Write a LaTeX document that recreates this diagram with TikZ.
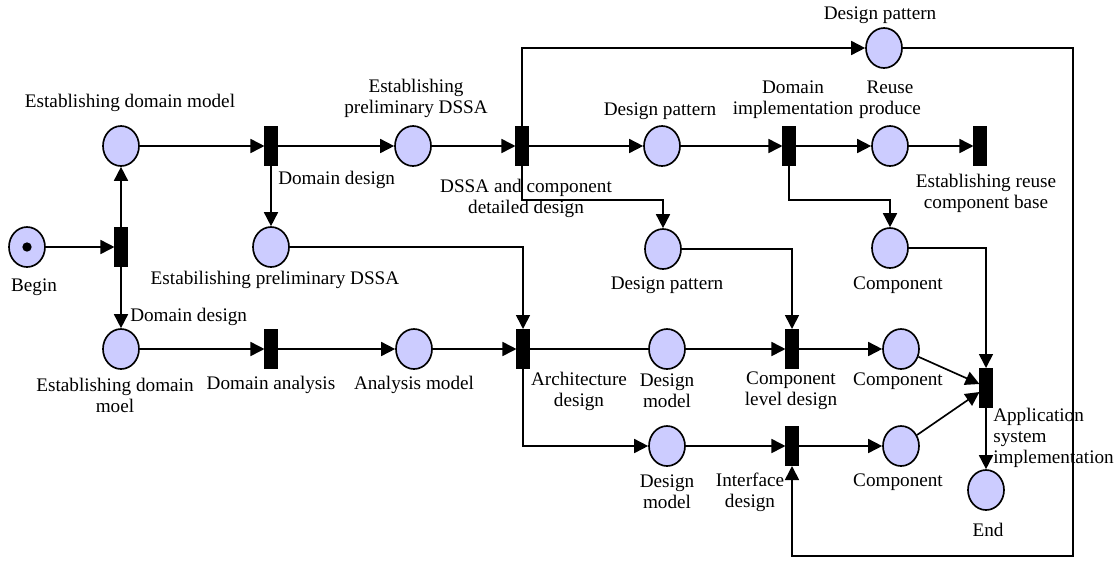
\documentclass[tikz,border=0pt]{standalone}
\usepackage{fontspec}
\setmainfont{Liberation Serif}
\usetikzlibrary{shapes.geometric,arrows.meta}
\definecolor{placefill}{RGB}{204,204,255}
\newcommand\lblfont{\fontsize{14.4}{15.8}\selectfont}
\tikzset{
  place/.style={ellipse, draw, line width=1.25pt, fill=placefill, minimum width=27pt, minimum height=30pt, inner sep=0pt},
  trans/.style={rectangle, fill=black, draw=black, line width=0.4pt, minimum width=9.4pt, minimum height=29.6pt, inner sep=0pt},
  arc/.style={line width=1.25pt, -{Triangle[length=10.5pt,width=10.5pt]}},
  plain/.style={line width=1.25pt},
  lbl/.style={font=\lblfont, inner sep=0pt, align=center},
}
\begin{document}
\begin{tikzpicture}[x=0.75pt,y=-0.75pt]
\useasboundingbox (0,0) rectangle (1116,561);
% places
\node[place] (begin) at (27,247) {};
\node[circle, fill=black, inner sep=0pt, minimum size=7pt] (tok) at (begin) {};
\node[place] (edm) at (121,146) {};
\node[place] (epd) at (413,146) {};
\node[place] (dp1) at (662,146) {};
\node[place] (rp) at (890,146) {};
\node[place] (dp0) at (884,48) {};
\node[place] (edp2) at (271,247) {};
\node[place] (dp2) at (663,249) {};
\node[place] (comp1) at (890,248) {};
\node[place] (edm2) at (121,349) {};
\node[place] (am) at (414,349) {};
\node[place] (dm1) at (667,349) {};
\node[place] (c2) at (901,349) {};
\node[place] (dm2) at (667,446) {};
\node[place] (c3) at (901,446) {};
\node[place] (end) at (986,490) {};
% transitions
\node[trans] (t1) at (121,247) {};
\node[trans] (t2) at (271,146) {};
\node[trans] (t3) at (522,146) {};
\node[trans] (t4) at (789,146) {};
\node[trans] (t5) at (980,146) {};
\node[trans] (t6) at (271,349) {};
\node[trans] (t7) at (523,349) {};
\node[trans] (t8) at (792,349) {};
\node[trans] (t9) at (986,388) {};
\node[trans] (t10) at (792,446) {};
% connectors
\draw[arc] (begin) -- (t1);
\draw[arc] (t1.north) -- (edm.south);
\draw[arc] (t1.south) -- (edm2.north);
\draw[arc] (edm) -- (t2);
\draw[arc] (t2) -- (epd);
\draw[arc] (t2.south) -- (edp2.north);
\draw[arc] (epd) -- (t3);
\draw[arc] (t3) -- (dp1);
\draw[arc] (t3.north) |- (dp0.west);
\draw[arc] (t3.south) -- (t3.south |- 0,200) -| (dp2.north);
\draw[arc] (dp1) -- (t4);
\draw[arc] (t4) -- (rp);
\draw[arc] (t4.south) -- (t4.south |- 0,200) -| (comp1.north);
\draw[arc] (rp) -- (t5);
\draw[arc] (edp2.east) -| (t7.north);
\draw[arc] (edm2) -- (t6);
\draw[arc] (t6) -- (am);
\draw[arc] (am) -- (t7);
\draw[plain] (t7) -- (dm1);
\draw[arc] (dm1) -- (t8);
\draw[arc] (t7.south) |- (dm2.west);
\draw[arc] (dm2) -- (t10);
\draw[arc] (dp2.east) -| (t8.north);
\draw[arc] (t8) -- (c2);
\draw[arc] (t10) -- (c3);
\draw[arc] (c2) -- ([yshift=3pt]t9.west);
\draw[arc] (c3) -- ([yshift=-3pt]t9.west);
\draw[arc] (comp1.east) -| (t9.north);
\draw[arc] (t9.south) -- (end.north);
\draw[arc] (dp0.east) -| (1073,556) -| (t10.south);
% labels
\node[lbl] (l1) at (880,15) {Design pattern};
\node[lbl] (l2) at (130,103) {Establishing domain model};
\node[lbl] (l3) at (416,98) {Establishing\\preliminary DSSA};
\node[lbl, anchor=west] (l4) at (278,180) {Domain design};
\node[lbl] (l5) at (526,198) {DSSA and component\\detailed design};
\node[lbl] (l6) at (660,111) {Design pattern};
\node[lbl] (l7) at (793,100) {Domain\\implementation};
\node[lbl] (l8) at (890,100) {Reuse\\produce};
\node[lbl] (l9) at (986,193) {Establishing reuse\\component base};
\node[lbl] (l10) at (275,280) {Estabilishing preliminary DSSA};
\node[lbl] (l11) at (34,287) {Begin};
\node[lbl] (l12) at (667,285) {Design pattern};
\node[lbl] (l13) at (898,285) {Component};
\node[lbl, anchor=west] (l14) at (130,317) {Domain design};
\node[lbl] (l15) at (115,395) {Establishing domain\\moel};
\node[lbl] (l16) at (271,385) {Domain analysis};
\node[lbl] (l17) at (414,385) {Analysis model};
\node[lbl] (l18) at (579,391) {Architecture\\design};
\node[lbl] (l19) at (667,391) {Design\\model};
\node[lbl] (l20) at (791,391) {Component\\level design};
\node[lbl] (l21) at (898,381) {Component};
\node[lbl, anchor=west, align=left] (l22) at (993,438) {Application\\system\\implementation};
\node[lbl] (l23) at (667,492) {Design\\model};
\node[lbl] (l24) at (750,492) {Interface\\design};
\node[lbl] (l25) at (898,482) {Component};
\node[lbl] (l26) at (988,530) {End};
\end{tikzpicture}
\end{document}
